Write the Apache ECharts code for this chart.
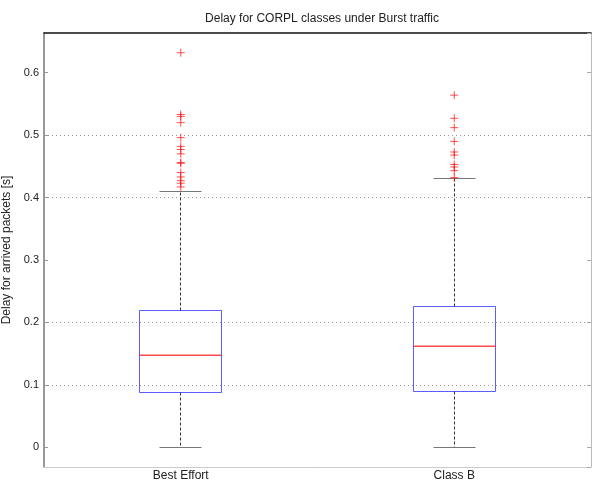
<!DOCTYPE html>
<html>
<head>
<meta charset="utf-8">
<script src="https://cdn.jsdelivr.net/npm/echarts@6/dist/echarts.min.js"></script>
<style>html,body{margin:0;padding:0;background:#fff}#c{width:592px;height:482px}</style>
</head>
<body>
<div id="c"></div>
<script>
const categories = ['Best Effort', 'Class B'];
// [lower whisker, Q1, median, Q3, upper whisker]
const bestEffortBox = [0, 0.088, 0.147, 0.219, 0.409];
const classBBox = [0, 0.090, 0.161, 0.226, 0.430];
const bestEffortOutliers = [0.632, 0.533, 0.530, 0.520, 0.496, 0.482, 0.477, 0.470, 0.456, 0.455, 0.440, 0.433, 0.427, 0.423, 0.417];
const classBOutliers = [0.564, 0.527, 0.512, 0.490, 0.473, 0.468, 0.453, 0.449, 0.443, 0.432];
const gridValues = [0.1, 0.2, 0.4, 0.5];
const yMin = -0.0316, yMax = 0.6636;

const boxData = [[0].concat(bestEffortBox), [1].concat(classBBox)];
const outlierData = bestEffortOutliers.map(v => [0, v]).concat(classBOutliers.map(v => [1, v]));

const font = 'Liberation Sans, Arial, sans-serif';
const chart = echarts.init(document.getElementById('c'), null, {renderer: 'canvas'});

function crisp(v) { return Math.round(v - 0.5) + 0.5; }

function renderBox(params, api) {
  const idx = api.value(0);
  const lo = crisp(api.coord([idx, api.value(1)])[1]);
  const q1 = crisp(api.coord([idx, api.value(2)])[1]);
  const md = crisp(api.coord([idx, api.value(3)])[1]);
  const q3 = crisp(api.coord([idx, api.value(4)])[1]);
  const hi = crisp(api.coord([idx, api.value(5)])[1]);
  const band = api.size([1, 0])[0];
  const hw = Math.round(band * 0.15);
  const cw = Math.round(hw / 2);
  const x = crisp(api.coord([idx, 0])[0]);
  const dash = {stroke: '#333', lineWidth: 1, lineDash: [3, 2]};
  const cap = {stroke: '#777', lineWidth: 1};
  return {
    type: 'group',
    children: [
      {type: 'line', shape: {x1: x, y1: q3, x2: x, y2: hi}, style: dash},
      {type: 'line', shape: {x1: x, y1: q1, x2: x, y2: lo}, style: dash},
      {type: 'line', shape: {x1: x - cw, y1: hi, x2: x + cw, y2: hi}, style: cap},
      {type: 'line', shape: {x1: x - cw, y1: lo, x2: x + cw, y2: lo}, style: cap},
      {type: 'rect', shape: {x: x - hw, y: q3, width: 2 * hw, height: q1 - q3},
        style: {fill: 'none', stroke: 'rgba(40,40,255,0.75)', lineWidth: 1}},
      {type: 'rect', shape: {x: x - hw, y: md - 1, width: 2 * hw, height: 1.6},
        style: {fill: 'rgba(255,30,30,0.8)', stroke: null}}
    ]
  };
}

chart.setOption({
  animation: false,
  backgroundColor: '#fff',
  title: {
    text: 'Delay for CORPL classes under Burst traffic',
    left: 317, top: 8, textAlign: 'center',
    textStyle: {fontFamily: font, fontSize: 12, fontWeight: 'normal', color: '#222'}
  },
  grid: {left: 44, right: 1, top: 33, bottom: 15, containLabel: false, outerBoundsMode: 'none'},
  xAxis: [
    {
      type: 'category', data: categories, position: 'bottom',
      axisLine: {onZero: false, lineStyle: {color: '#ccc', width: 1}},
      axisTick: {show: false},
      axisLabel: {fontFamily: font, fontSize: 12, color: '#222', margin: 3},
      splitLine: {show: false}
    },
    {
      type: 'category', data: categories, position: 'top',
      axisLine: {onZero: false, lineStyle: {color: '#111', width: 1.5}},
      axisTick: {show: false}, axisLabel: {show: false}, splitLine: {show: false}
    }
  ],
  yAxis: [
    {
      type: 'value', min: yMin, max: yMax, splitNumber: 7, position: 'left',
      name: 'Delay for arrived packets [s]', nameLocation: 'middle', nameGap: 19,
      nameTextStyle: {fontFamily: font, fontSize: 12, color: '#222'},
      axisLine: {show: true, onZero: false, lineStyle: {color: '#777', width: 1.5}},
      axisTick: {show: true, inside: true, length: 4, lineStyle: {color: '#999'}},
      axisLabel: {fontFamily: font, fontSize: 11, color: '#222', margin: 5,
        showMinLabel: false, showMaxLabel: false,
        formatter: v => (Math.abs(v * 10 - Math.round(v * 10)) < 1e-6) ? String(Math.round(v * 10) / 10) : ''},
      splitLine: {show: false}
    },
    {
      type: 'value', min: yMin, max: yMax, splitNumber: 7, position: 'right',
      axisLine: {show: true, onZero: false, lineStyle: {color: '#bbb', width: 1}},
      axisTick: {show: true, inside: true, length: 4, lineStyle: {color: '#aaa'}},
      axisLabel: {show: false}, splitLine: {show: false}
    }
  ],
  series: [
    {
      type: 'scatter', data: outlierData, xAxisIndex: 0, yAxisIndex: 0,
      symbol: 'path://M0,5L10,5M5,0L5,10', symbolSize: 8,
      itemStyle: {color: 'transparent', borderColor: 'rgba(255,0,0,0.85)', borderWidth: 1},
      z: 4,
      markLine: {
        silent: true, symbol: 'none', label: {show: false},
        lineStyle: {type: [1, 3], color: '#999', width: 1},
        data: gridValues.map(v => ({yAxis: v})),
        z: 1
      }
    },
    {
      type: 'custom', data: boxData, xAxisIndex: 0, yAxisIndex: 0,
      renderItem: renderBox, z: 3
    }
  ]
});
</script>
</body>
</html>
